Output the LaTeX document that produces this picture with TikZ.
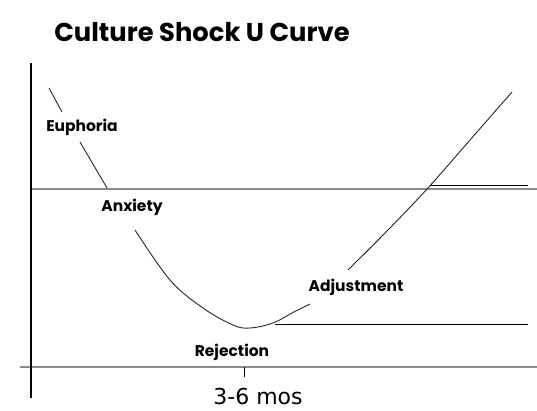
\documentclass[tikz,border=0pt]{standalone}
\usepackage{fontspec}
\setmainfont{DejaVu Sans}
\newfontfamily\titlefont{Poppins}
\begin{document}
\begin{tikzpicture}[x=1pt,y=-1pt,
  axisline/.style={line width=1.4pt,black},
  grayline/.style={line width=2.2pt,color=black!45},
  refline/.style={line width=1pt,black},
  curveline/.style={line width=0.9pt,black!85},
  lbl/.style={inner sep=1pt,font=\titlefont\bfseries\fontsize{15.5}{18}\selectfont},
  ttl/.style={inner sep=0pt,font=\titlefont\bfseries\fontsize{25.8}{30}\selectfont}]
\useasboundingbox[fill=white] (0,0) rectangle (537,410);
% axes
\coordinate (vtop) at (31,63);
\coordinate (vbot) at (31,398);
\coordinate (hl) at (20,367);
\coordinate (hr) at (537,367);
\coordinate (ml) at (31,189);
\coordinate (mr) at (537,189);
\coordinate (tk1) at (244,367);
\coordinate (tk2) at (244,377);
\draw[grayline] (ml) -- (mr);
\draw[grayline] (hl) -- (hr);
\draw[axisline] (vtop) -- (vbot);
\draw[refline] (tk1) -- (tk2);
% reference lines
\coordinate (u1) at (430,185);
\coordinate (u2) at (528,185);
\coordinate (l1) at (275,324);
\coordinate (l2) at (528,324);
\draw[refline] (u1) -- (u2);
\draw[refline] (l1) -- (l2);
% curve pieces
\coordinate (c1a) at (49,88);
\coordinate (c1b) at (62,112);
\coordinate (c2a) at (80,142);
\coordinate (c2b) at (107,188);
\draw[curveline] (c1a) -- (c1b);
\draw[curveline] (c2a) -- (c2b);
\draw[curveline] plot[smooth,tension=0.6] coordinates {(135,230) (170,280) (203,308) (233,325) (250,328) (273,323) (292,313) (310,304)};
\draw[curveline] plot[smooth,tension=0.5] coordinates {(348,270) (388,230) (428,188) (470,140) (512,92)};
% labels
\node[ttl] (title) at (202,32) {Culture Shock U Curve};
\node[lbl] (euph) at (82,127) {Euphoria};
\node[lbl] (anx) at (132,207) {Anxiety};
\node[lbl] (adj) at (356,287) {Adjustment};
\node[lbl] (rej) at (232,352) {Rejection};
\node[inner sep=0pt,font=\fontsize{22}{26}\selectfont] (mos) at (258,396) {3-6 mos};
\end{tikzpicture}
\end{document}
